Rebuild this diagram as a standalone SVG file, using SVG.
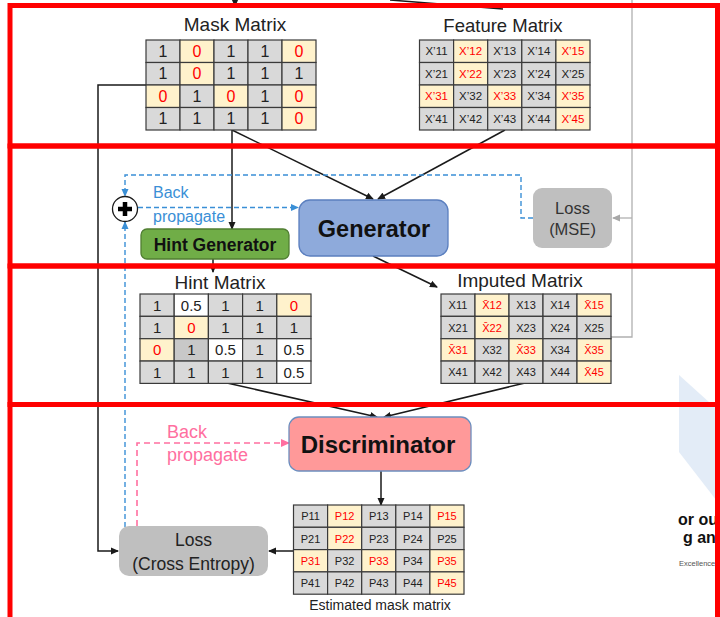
<svg xmlns="http://www.w3.org/2000/svg" width="720" height="617" viewBox="0 0 720 617">
<defs>
<style>
text{font-family:"Liberation Sans",Arial,sans-serif;}
.g{fill:#d9d9d9;stroke:#3a3a3a;stroke-width:1.2}
.y{fill:#fff2cc;stroke:#3a3a3a;stroke-width:1.2}
.w{fill:#ffffff;stroke:#3a3a3a;stroke-width:1.2}
.d{fill:#c8c8c8;stroke:#3a3a3a;stroke-width:1.2}
.c16{font-size:16px;fill:#222;text-anchor:middle}
.c15{font-size:15px;fill:#222;text-anchor:middle}
.c11{font-size:11.5px;fill:#222;text-anchor:middle}
.c10{font-size:11px;fill:#222;text-anchor:middle}
.r{fill:#ff0000}
.title{font-size:19px;fill:#222;text-anchor:middle}
.ln{fill:none;stroke:#1a1a1a;stroke-width:1.5}
.gl{fill:none;stroke:#b0b0b0;stroke-width:1.3}
.bl{fill:none;stroke:#3a8fd6;stroke-width:1.4;stroke-dasharray:5 3}
.pk{fill:none;stroke:#ff6fa0;stroke-width:1.6;stroke-dasharray:6 4}
.red{fill:none;stroke:#ff0000;stroke-width:5}
</style>
<marker id="ab" markerWidth="8" markerHeight="8" refX="7" refY="4" orient="auto" markerUnits="userSpaceOnUse"><path d="M0,0.5 L8,4 L0,7.5 Z" fill="#1a1a1a"/></marker>
<marker id="ag" markerWidth="8" markerHeight="8" refX="7" refY="4" orient="auto" markerUnits="userSpaceOnUse"><path d="M0,0.5 L8,4 L0,7.5 Z" fill="#a8a8a8"/></marker>
<marker id="abl" markerWidth="8" markerHeight="8" refX="7" refY="4" orient="auto" markerUnits="userSpaceOnUse"><path d="M0,0.5 L8,4 L0,7.5 Z" fill="#3a8fd6"/></marker>
<marker id="apk" markerWidth="9" markerHeight="9" refX="8" refY="4.5" orient="auto" markerUnits="userSpaceOnUse"><path d="M0,0.5 L9,4.5 L0,8.5 Z" fill="#ff6fa0"/></marker>
</defs>
<rect width="720" height="617" fill="#ffffff"/>

<g id="watermark">
<polygon points="679,375 720,412 720,505 679,452" fill="#e3ecf7"/>
<text x="678" y="525" font-size="16" font-weight="bold" fill="#111">or ou</text>
<text x="683" y="543" font-size="16" font-weight="bold" fill="#111">g an</text>
<text x="679" y="566" font-size="7.5" fill="#555">Excellence</text>
</g>

<g id="connectors">
<path class="ln" d="M235,0 V6" marker-end="url(#ab)"/>
<path class="ln" d="M390,0 L503,9"/>
<path class="gl" d="M632,0 V337 H611"/>
<path class="gl" d="M632,218 H613" marker-end="url(#ag)"/>
<path class="ln" d="M146,85 H98 V551 H118" marker-end="url(#ab)"/>
<path class="ln" d="M232,130 V229" marker-end="url(#ab)"/>
<path class="ln" d="M232,130 L373,199" marker-end="url(#ab)"/>
<path class="ln" d="M505,130 L378,199" marker-end="url(#ab)"/>
<path class="ln" d="M213,259 V272" marker-end="url(#ab)"/>
<path class="ln" d="M373,256 L437,287" marker-end="url(#ab)"/>
<path class="bl" d="M533,218 H521 V175 H125 V196" marker-end="url(#abl)"/>
<path class="bl" d="M138,207.5 H298" marker-end="url(#abl)"/>
<path class="bl" d="M125,527 V222" marker-end="url(#abl)"/>
<path class="ln" d="M227,383 L377,417" marker-end="url(#ab)"/>
<path class="ln" d="M525,383 L384,417" marker-end="url(#ab)"/>
<path class="ln" d="M381,471 V505" marker-end="url(#ab)"/>
<path class="ln" d="M293,551 H269" marker-end="url(#ab)"/>
<path class="pk" d="M137,526 V443 H289" marker-end="url(#apk)"/>
</g>

<g id="mask-matrix">
<text class="title" x="235" y="30.8">Mask Matrix</text>
<rect class="g" x="146" y="40" width="34" height="22.5"/><rect class="y" x="180" y="40" width="34" height="22.5"/><rect class="g" x="214" y="40" width="34" height="22.5"/><rect class="g" x="248" y="40" width="34" height="22.5"/><rect class="y" x="282" y="40" width="34" height="22.5"/>
<rect class="g" x="146" y="62.5" width="34" height="22.5"/><rect class="y" x="180" y="62.5" width="34" height="22.5"/><rect class="g" x="214" y="62.5" width="34" height="22.5"/><rect class="g" x="248" y="62.5" width="34" height="22.5"/><rect class="g" x="282" y="62.5" width="34" height="22.5"/>
<rect class="y" x="146" y="85" width="34" height="22.5"/><rect class="g" x="180" y="85" width="34" height="22.5"/><rect class="y" x="214" y="85" width="34" height="22.5"/><rect class="g" x="248" y="85" width="34" height="22.5"/><rect class="y" x="282" y="85" width="34" height="22.5"/>
<rect class="g" x="146" y="107.5" width="34" height="22.5"/><rect class="g" x="180" y="107.5" width="34" height="22.5"/><rect class="g" x="214" y="107.5" width="34" height="22.5"/><rect class="g" x="248" y="107.5" width="34" height="22.5"/><rect class="y" x="282" y="107.5" width="34" height="22.5"/>
<text class="c16" x="163" y="56.9">1</text><text class="c16 r" x="197" y="56.9">0</text><text class="c16" x="231" y="56.9">1</text><text class="c16" x="265" y="56.9">1</text><text class="c16 r" x="299" y="56.9">0</text>
<text class="c16" x="163" y="79.4">1</text><text class="c16 r" x="197" y="79.4">0</text><text class="c16" x="231" y="79.4">1</text><text class="c16" x="265" y="79.4">1</text><text class="c16" x="299" y="79.4">1</text>
<text class="c16 r" x="163" y="101.9">0</text><text class="c16" x="197" y="101.9">1</text><text class="c16 r" x="231" y="101.9">0</text><text class="c16" x="265" y="101.9">1</text><text class="c16 r" x="299" y="101.9">0</text>
<text class="c16" x="163" y="124.4">1</text><text class="c16" x="197" y="124.4">1</text><text class="c16" x="231" y="124.4">1</text><text class="c16" x="265" y="124.4">1</text><text class="c16 r" x="299" y="124.4">0</text>
</g>

<g id="feature-matrix">
<text class="title" x="503" y="31.5" style="font-size:18.5px">Feature Matrix</text>
<rect class="g" x="419.5" y="40" width="34.1" height="22.5"/><rect class="y" x="453.6" y="40" width="34.1" height="22.5"/><rect class="g" x="487.7" y="40" width="34.1" height="22.5"/><rect class="g" x="521.8" y="40" width="34.1" height="22.5"/><rect class="y" x="555.9" y="40" width="34.1" height="22.5"/>
<rect class="g" x="419.5" y="62.5" width="34.1" height="22.5"/><rect class="y" x="453.6" y="62.5" width="34.1" height="22.5"/><rect class="g" x="487.7" y="62.5" width="34.1" height="22.5"/><rect class="g" x="521.8" y="62.5" width="34.1" height="22.5"/><rect class="g" x="555.9" y="62.5" width="34.1" height="22.5"/>
<rect class="y" x="419.5" y="85" width="34.1" height="22.5"/><rect class="g" x="453.6" y="85" width="34.1" height="22.5"/><rect class="y" x="487.7" y="85" width="34.1" height="22.5"/><rect class="g" x="521.8" y="85" width="34.1" height="22.5"/><rect class="y" x="555.9" y="85" width="34.1" height="22.5"/>
<rect class="g" x="419.5" y="107.5" width="34.1" height="22.5"/><rect class="g" x="453.6" y="107.5" width="34.1" height="22.5"/><rect class="g" x="487.7" y="107.5" width="34.1" height="22.5"/><rect class="g" x="521.8" y="107.5" width="34.1" height="22.5"/><rect class="y" x="555.9" y="107.5" width="34.1" height="22.5"/>
<text class="c11" x="436.5" y="55.4">X’11</text><text class="c11 r" x="470.6" y="55.4">X’12</text><text class="c11" x="504.7" y="55.4">X’13</text><text class="c11" x="538.8" y="55.4">X’14</text><text class="c11 r" x="572.9" y="55.4">X’15</text>
<text class="c11" x="436.5" y="77.9">X’21</text><text class="c11 r" x="470.6" y="77.9">X’22</text><text class="c11" x="504.7" y="77.9">X’23</text><text class="c11" x="538.8" y="77.9">X’24</text><text class="c11" x="572.9" y="77.9">X’25</text>
<text class="c11 r" x="436.5" y="100.4">X’31</text><text class="c11" x="470.6" y="100.4">X’32</text><text class="c11 r" x="504.7" y="100.4">X’33</text><text class="c11" x="538.8" y="100.4">X’34</text><text class="c11 r" x="572.9" y="100.4">X’35</text>
<text class="c11" x="436.5" y="122.9">X’41</text><text class="c11" x="470.6" y="122.9">X’42</text><text class="c11" x="504.7" y="122.9">X’43</text><text class="c11" x="538.8" y="122.9">X’44</text><text class="c11 r" x="572.9" y="122.9">X’45</text>
</g>

<g id="backprop-generator">
<circle cx="125" cy="209" r="12.5" fill="#fff" stroke="#1a1a1a" stroke-width="1.3"/>
<path d="M118,209 H132 M125,202 V216" stroke="#000" stroke-width="4.5"/>
<text x="153" y="198" font-size="16" fill="#3a8fd6">Back</text>
<text x="153" y="222" font-size="16" fill="#3a8fd6">propagate</text>
</g>

<g id="hint-generator">
<rect x="141" y="229" width="148" height="30" rx="6" fill="#70ad47" stroke="#507e32" stroke-width="1.3"/>
<text x="215" y="251" font-size="17.5" font-weight="bold" fill="#111" text-anchor="middle">Hint Generator</text>
</g>

<g id="generator">
<rect x="299" y="200" width="149" height="56" rx="11" fill="#8eaadb" stroke="#5b7fbf" stroke-width="1.3"/>
<text x="374" y="237" font-size="23.5" font-weight="bold" fill="#111" text-anchor="middle">Generator</text>
</g>

<g id="loss-mse">
<rect x="533" y="188" width="79" height="60" rx="9" fill="#bfbfbf"/>
<text x="572.5" y="213.5" font-size="16.5" fill="#333" text-anchor="middle">Loss</text>
<text x="572.5" y="235" font-size="16.5" fill="#333" text-anchor="middle">(MSE)</text>
</g>

<g id="hint-matrix">
<text class="title" x="220" y="288.5">Hint Matrix</text>
<rect class="g" x="140" y="294" width="34.2" height="22.35"/><rect class="w" x="174.2" y="294" width="34.2" height="22.35"/><rect class="g" x="208.4" y="294" width="34.2" height="22.35"/><rect class="g" x="242.6" y="294" width="34.2" height="22.35"/><rect class="y" x="276.8" y="294" width="34.2" height="22.35"/>
<rect class="g" x="140" y="316.35" width="34.2" height="22.35"/><rect class="y" x="174.2" y="316.35" width="34.2" height="22.35"/><rect class="g" x="208.4" y="316.35" width="34.2" height="22.35"/><rect class="g" x="242.6" y="316.35" width="34.2" height="22.35"/><rect class="g" x="276.8" y="316.35" width="34.2" height="22.35"/>
<rect class="y" x="140" y="338.7" width="34.2" height="22.35"/><rect class="d" x="174.2" y="338.7" width="34.2" height="22.35"/><rect class="w" x="208.4" y="338.7" width="34.2" height="22.35"/><rect class="g" x="242.6" y="338.7" width="34.2" height="22.35"/><rect class="w" x="276.8" y="338.7" width="34.2" height="22.35"/>
<rect class="g" x="140" y="361.05" width="34.2" height="22.35"/><rect class="g" x="174.2" y="361.05" width="34.2" height="22.35"/><rect class="g" x="208.4" y="361.05" width="34.2" height="22.35"/><rect class="g" x="242.6" y="361.05" width="34.2" height="22.35"/><rect class="w" x="276.8" y="361.05" width="34.2" height="22.35"/>
<text class="c15" x="157.1" y="310.5">1</text><text class="c15" x="191.3" y="310.5">0.5</text><text class="c15" x="225.5" y="310.5">1</text><text class="c15" x="259.7" y="310.5">1</text><text class="c15 r" x="293.9" y="310.5">0</text>
<text class="c15" x="157.1" y="332.8">1</text><text class="c15 r" x="191.3" y="332.8">0</text><text class="c15" x="225.5" y="332.8">1</text><text class="c15" x="259.7" y="332.8">1</text><text class="c15" x="293.9" y="332.8">1</text>
<text class="c15 r" x="157.1" y="355.2">0</text><text class="c15" x="191.3" y="355.2">1</text><text class="c15" x="225.5" y="355.2">0.5</text><text class="c15" x="259.7" y="355.2">1</text><text class="c15" x="293.9" y="355.2">0.5</text>
<text class="c15" x="157.1" y="377.5">1</text><text class="c15" x="191.3" y="377.5">1</text><text class="c15" x="225.5" y="377.5">1</text><text class="c15" x="259.7" y="377.5">1</text><text class="c15" x="293.9" y="377.5">0.5</text>
</g>

<g id="imputed-matrix">
<text class="title" x="520" y="286.8">Imputed Matrix</text>
<rect class="g" x="441" y="294" width="34" height="22.35"/><rect class="y" x="475" y="294" width="34" height="22.35"/><rect class="g" x="509" y="294" width="34" height="22.35"/><rect class="g" x="543" y="294" width="34" height="22.35"/><rect class="y" x="577" y="294" width="34" height="22.35"/>
<rect class="g" x="441" y="316.35" width="34" height="22.35"/><rect class="y" x="475" y="316.35" width="34" height="22.35"/><rect class="g" x="509" y="316.35" width="34" height="22.35"/><rect class="g" x="543" y="316.35" width="34" height="22.35"/><rect class="g" x="577" y="316.35" width="34" height="22.35"/>
<rect class="y" x="441" y="338.7" width="34" height="22.35"/><rect class="g" x="475" y="338.7" width="34" height="22.35"/><rect class="y" x="509" y="338.7" width="34" height="22.35"/><rect class="g" x="543" y="338.7" width="34" height="22.35"/><rect class="y" x="577" y="338.7" width="34" height="22.35"/>
<rect class="g" x="441" y="361.05" width="34" height="22.35"/><rect class="g" x="475" y="361.05" width="34" height="22.35"/><rect class="g" x="509" y="361.05" width="34" height="22.35"/><rect class="g" x="543" y="361.05" width="34" height="22.35"/><rect class="y" x="577" y="361.05" width="34" height="22.35"/>
<text class="c10" x="458" y="309.2">X11</text><text class="c10 r" x="492" y="309.2">X&#x304;12</text><text class="c10" x="526" y="309.2">X13</text><text class="c10" x="560" y="309.2">X14</text><text class="c10 r" x="594" y="309.2">X&#x304;15</text>
<text class="c10" x="458" y="331.5">X21</text><text class="c10 r" x="492" y="331.5">X&#x304;22</text><text class="c10" x="526" y="331.5">X23</text><text class="c10" x="560" y="331.5">X24</text><text class="c10" x="594" y="331.5">X25</text>
<text class="c10 r" x="458" y="353.9">X&#x304;31</text><text class="c10" x="492" y="353.9">X32</text><text class="c10 r" x="526" y="353.9">X&#x304;33</text><text class="c10" x="560" y="353.9">X34</text><text class="c10 r" x="594" y="353.9">X&#x304;35</text>
<text class="c10" x="458" y="376.2">X41</text><text class="c10" x="492" y="376.2">X42</text><text class="c10" x="526" y="376.2">X43</text><text class="c10" x="560" y="376.2">X44</text><text class="c10 r" x="594" y="376.2">X&#x304;45</text>
</g>

<g id="discriminator">
<rect x="289" y="417" width="182" height="54" rx="10" fill="#ff9999" stroke="#6c8ebf" stroke-width="1.3"/>
<text x="378" y="453" font-size="24" font-weight="bold" fill="#111" text-anchor="middle">Discriminator</text>
</g>

<g id="backprop-discriminator">
<text x="167" y="437.5" font-size="18" fill="#ff6fa0">Back</text>
<text x="167" y="460.5" font-size="18" fill="#ff6fa0">propagate</text>
</g>

<g id="estimated-mask-matrix">
<rect class="g" x="293.5" y="505" width="34.1" height="22.3"/><rect class="y" x="327.6" y="505" width="34.1" height="22.3"/><rect class="g" x="361.7" y="505" width="34.1" height="22.3"/><rect class="g" x="395.8" y="505" width="34.1" height="22.3"/><rect class="y" x="429.9" y="505" width="34.1" height="22.3"/>
<rect class="g" x="293.5" y="527.3" width="34.1" height="22.3"/><rect class="y" x="327.6" y="527.3" width="34.1" height="22.3"/><rect class="g" x="361.7" y="527.3" width="34.1" height="22.3"/><rect class="g" x="395.8" y="527.3" width="34.1" height="22.3"/><rect class="g" x="429.9" y="527.3" width="34.1" height="22.3"/>
<rect class="y" x="293.5" y="549.6" width="34.1" height="22.3"/><rect class="g" x="327.6" y="549.6" width="34.1" height="22.3"/><rect class="y" x="361.7" y="549.6" width="34.1" height="22.3"/><rect class="g" x="395.8" y="549.6" width="34.1" height="22.3"/><rect class="y" x="429.9" y="549.6" width="34.1" height="22.3"/>
<rect class="g" x="293.5" y="571.9" width="34.1" height="22.3"/><rect class="g" x="327.6" y="571.9" width="34.1" height="22.3"/><rect class="g" x="361.7" y="571.9" width="34.1" height="22.3"/><rect class="g" x="395.8" y="571.9" width="34.1" height="22.3"/><rect class="y" x="429.9" y="571.9" width="34.1" height="22.3"/>
<text class="c10" x="310.55" y="520.2">P11</text><text class="c10 r" x="344.65" y="520.2">P12</text><text class="c10" x="378.75" y="520.2">P13</text><text class="c10" x="412.85" y="520.2">P14</text><text class="c10 r" x="446.95" y="520.2">P15</text>
<text class="c10" x="310.55" y="542.5">P21</text><text class="c10 r" x="344.65" y="542.5">P22</text><text class="c10" x="378.75" y="542.5">P23</text><text class="c10" x="412.85" y="542.5">P24</text><text class="c10" x="446.95" y="542.5">P25</text>
<text class="c10 r" x="310.55" y="564.8">P31</text><text class="c10" x="344.65" y="564.8">P32</text><text class="c10 r" x="378.75" y="564.8">P33</text><text class="c10" x="412.85" y="564.8">P34</text><text class="c10 r" x="446.95" y="564.8">P35</text>
<text class="c10" x="310.55" y="587.1">P41</text><text class="c10" x="344.65" y="587.1">P42</text><text class="c10" x="378.75" y="587.1">P43</text><text class="c10" x="412.85" y="587.1">P44</text><text class="c10 r" x="446.95" y="587.1">P45</text>
<text x="380" y="610" font-size="14" fill="#222" text-anchor="middle">Estimated mask matrix</text>
</g>

<g id="loss-cross-entropy">
<rect x="119" y="526" width="149" height="50" rx="10" fill="#bfbfbf"/>
<text x="193.5" y="546" font-size="17.5" fill="#222" text-anchor="middle">Loss</text>
<text x="193.5" y="570" font-size="17.5" fill="#222" text-anchor="middle">(Cross Entropy)</text>
</g>

<g id="red-frames">
<rect class="red" x="10" y="5.5" width="707.5" height="140.5"/>
<rect class="red" x="10" y="146" width="707.5" height="120"/>
<rect class="red" x="10" y="266" width="707.5" height="138.5"/>
<rect class="red" x="10" y="404.5" width="707.5" height="230"/>
</g>
</svg>
